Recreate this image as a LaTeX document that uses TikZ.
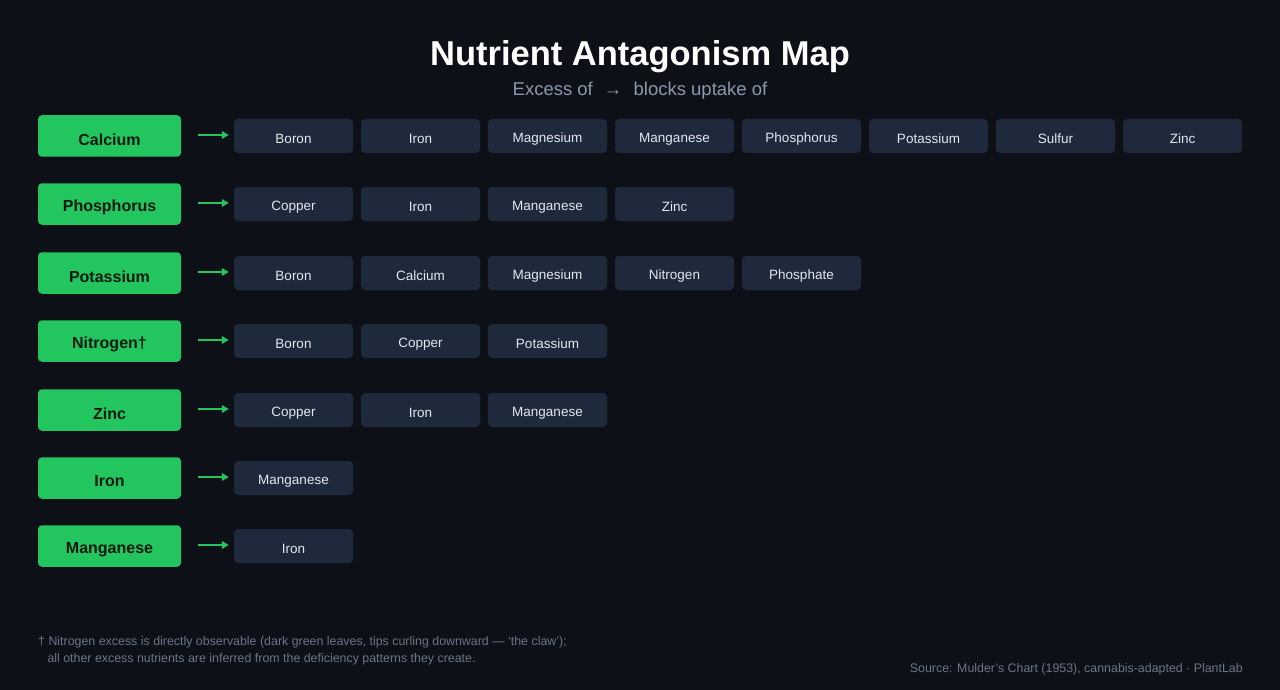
\documentclass[tikz,border=0pt]{standalone}
\usepackage{fontspec}
\setmainfont{Liberation Sans}
\usepackage{xcolor}
\usetikzlibrary{arrows.meta}
\usetikzlibrary{calc}

\definecolor{bgdark}{HTML}{0D1017}
\definecolor{leafgreen}{HTML}{22C55E}
\definecolor{greentext}{HTML}{0B1A10}
\definecolor{slatebox}{HTML}{1E293B}
\definecolor{slatetext}{HTML}{E2E8F0}
\definecolor{subgray}{HTML}{8B98AB}
\definecolor{notegray}{HTML}{6B7587}

\newcommand{\dn}[2]{\raisebox{-#1}[\height][\depth]{#2}}

\begin{document}
\begin{tikzpicture}[x=1pt,y=-1pt]%%antagonism

                \tikzstyle{excess}  = [rectangle, rounded corners=4pt, fill=leafgreen, text=greentext, minimum width=143pt, minimum height=41.5pt, inner sep=0pt, font=\fontsize{16}{19}\selectfont\bfseries]
                \tikzstyle{blocked} = [rectangle, rounded corners=4pt, fill=slatebox, text=slatetext, minimum width=119pt, minimum height=34pt, inner sep=0pt, font=\fontsize{13.5}{16}\selectfont]
                \tikzstyle{blocks}  = [draw=leafgreen, line width=2pt, -{Triangle[length=7pt,width=7.5pt]}, shorten <=17pt, shorten >=5pt]
                \tikzstyle{note}    = [inner sep=0pt, text=notegray, font=\fontsize{12.4}{15}\selectfont]

                \fill[bgdark] (0,0) rectangle (1280,690);
                \useasboundingbox (0,0) rectangle (1280,690);

                \node [text=white, font=\fontsize{34.5}{40}\selectfont\bfseries](title) at (640,56.5) {Nutrient Antagonism Map};
                \node [text=subgray, font=\fontsize{18.5}{22}\selectfont](subtitle) at (640,91) {Excess of \hspace{6pt}→\hspace{6pt} blocks uptake of};

                \foreach \src/\targets [count=\r] in {Calcium/{Boron,Iron,Magnesium,Manganese,Phosphorus,Potassium,Sulfur,Zinc},
                                Phosphorus/{Copper,Iron,Manganese,Zinc},
                                Potassium/{Boron,Calcium,Magnesium,Nitrogen,Phosphate},
                                Nitrogen†/{Boron,Copper,Potassium},
                                Zinc/{Copper,Iron,Manganese},
                                Iron/{Manganese},
                                Manganese/{Iron}}{
                        \pgfmathsetmacro\yy{round(136+68.4*(\r-1))}
                        \node [excess](ex\r) at (109.5,\yy) {\dn{3.5pt}{\src}};
                        \foreach \t [count=\c] in \targets{
                                \pgfmathsetmacro\xx{293.5+127*(\c-1)}
                                \node [blocked](bl\r-\c) at (\xx,\yy) {\dn{2.8pt}{\t}};
                        }
                        \draw [blocks] ([yshift=1pt]ex\r.east) -- ([yshift=1pt]bl\r-1.west);
                }

                \node [note, anchor=base west](note1) at (38,645.7) {† Nitrogen excess is directly observable (dark green leaves, tips curling downward — `the claw');};
                \node [note, anchor=base west](note2) at (47.3,662.3) {all other excess nutrients are inferred from the deficiency patterns they create.};
                \node [note, anchor=base east](source) at (1243,672) {Source: Mulder's Chart (1953), cannabis-adapted · PlantLab};
\end{tikzpicture}
\end{document}
